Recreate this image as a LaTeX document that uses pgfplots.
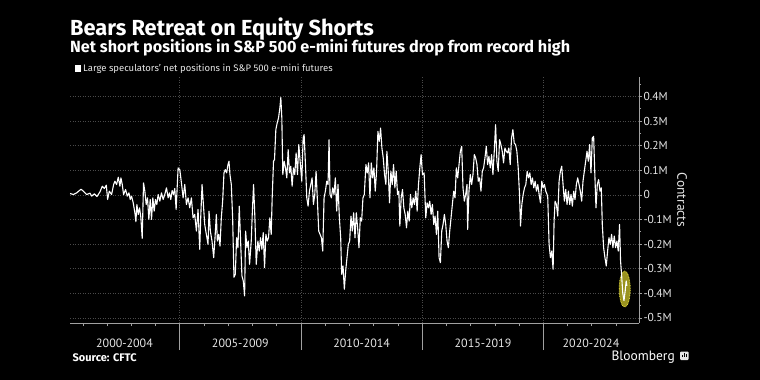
\documentclass[border=0pt]{standalone}
\usepackage{pgfplots}
\pgfplotsset{compat=1.18}
\usepackage{fontspec}
\setmainfont{Fira Sans}
\newfontfamily\ptsans{PT Sans}
\definecolor{gridc}{HTML}{4A4A4A}
\definecolor{axc}{HTML}{A0A0A0}
\definecolor{txt}{HTML}{E6E6E6}
\definecolor{hlfill}{HTML}{9A9320}
\definecolor{hlline}{HTML}{E6DE3C}
\pgfplotstableread{
x y
2000.473 0.0054
2000.610 0.0014
2000.747 0.0081
2000.925 0.0230
2001.021 0.0149
2001.159 0.0014
2001.296 0.0068
2001.364 -0.0054
2001.474 0.0041
2001.584 -0.0068
2001.707 0.0122
2001.803 0.0351
2001.886 0.0257
2001.968 0.0392
2002.023 -0.0189
2002.091 0.0149
2002.187 0.0014
2002.270 0.0419
2002.325 0.0554
2002.393 0.0419
2002.462 0.0716
2002.530 0.0351
2002.571 0.0689
2002.626 0.0419
2002.681 0.0014
2002.764 0.0216
2002.832 -0.0054
2002.901 0.0081
2002.956 -0.0189
2003.010 -0.0054
2003.079 -0.0324
2003.148 -0.0730
2003.189 -0.1095
2003.230 -0.0392
2003.285 -0.0797
2003.340 -0.0527
2003.395 -0.0932
2003.449 -0.1770
2003.504 0.0486
2003.559 0.0149
2003.614 -0.0392
2003.669 -0.0122
2003.724 -0.1000
2003.779 -0.0189
2003.834 -0.1000
2003.888 -0.0122
2003.943 -0.0662
2003.998 -0.0189
2004.053 -0.0392
2004.108 0.0014
2004.177 -0.0257
2004.245 0.0081
2004.314 -0.0189
2004.382 0.0014
2004.451 0.0284
2004.520 -0.0122
2004.574 0.0081
2004.629 -0.0189
2004.684 0.0176
2004.739 0.0014
2004.794 0.0257
2004.849 -0.0595
2004.931 0.1095
2005.000 0.1027
2005.068 0.0486
2005.137 -0.0122
2005.206 0.0419
2005.274 -0.0392
2005.343 -0.0122
2005.411 -0.0527
2005.480 -0.0122
2005.548 -0.0932
2005.617 -0.0797
2005.686 -0.1473
2005.754 -0.0595
2005.823 -0.2216
2005.864 -0.0932
2005.919 0.0419
2005.974 -0.0392
2006.029 -0.1203
2006.097 -0.1608
2006.166 -0.2014
2006.207 -0.0662
2006.262 -0.1473
2006.330 -0.1878
2006.399 -0.2554
2006.454 -0.1743
2006.509 -0.0797
2006.550 -0.1878
2006.605 -0.1608
2006.660 -0.2081
2006.714 -0.0932
2006.769 -0.0257
2006.824 0.0892
2006.879 0.1027
2006.934 0.0892
2006.989 0.1230
2007.030 0.1365
2007.071 0.0824
2007.126 0.0419
2007.181 -0.0932
2007.236 -0.3351
2007.291 -0.3230
2007.345 -0.1743
2007.400 -0.2149
2007.455 -0.0459
2007.510 -0.1878
2007.565 -0.3297
2007.620 -0.3500
2007.675 -0.4108
2007.716 -0.1473
2007.771 -0.2149
2007.826 -0.1878
2007.880 -0.2824
2007.949 -0.1878
2007.990 -0.0797
2008.045 0.0419
2008.100 -0.0932
2008.155 -0.2824
2008.223 -0.1878
2008.278 -0.2284
2008.333 -0.1743
2008.388 -0.2216
2008.443 -0.1541
2008.498 -0.2959
2008.553 -0.1608
2008.608 -0.1878
2008.662 -0.1743
2008.717 -0.0932
2008.772 -0.1608
2008.813 -0.0122
2008.868 0.1365
2008.909 0.1432
2008.964 0.2649
2009.019 0.2919
2009.074 0.3122
2009.129 0.3527
2009.170 0.3959
2009.211 0.3122
2009.252 0.0824
2009.307 0.1365
2009.362 0.1095
2009.417 0.0689
2009.472 0.1838
2009.527 0.0892
2009.581 0.1162
2009.636 0.0351
2009.691 0.1095
2009.746 0.0824
2009.801 0.1703
2009.856 0.0824
2009.911 0.2041
2009.966 0.1365
2010.035 0.0554
2010.090 0.2311
2010.131 0.2446
2010.186 0.1230
2010.241 -0.0122
2010.295 -0.0459
2010.350 0.0149
2010.405 0.0419
2010.460 0.0689
2010.515 -0.0392
2010.570 0.0014
2010.625 0.0959
2010.680 -0.0257
2010.734 -0.1473
2010.789 -0.1608
2010.844 -0.1743
2010.899 -0.2284
2010.954 -0.0122
2011.009 0.0149
2011.064 0.0554
2011.118 0.0419
2011.160 0.2243
2011.201 0.0014
2011.256 -0.0122
2011.310 0.0284
2011.365 0.0014
2011.420 0.0689
2011.475 -0.0662
2011.530 0.0419
2011.585 -0.0932
2011.640 -0.1743
2011.681 -0.3230
2011.736 -0.2892
2011.791 -0.3838
2011.845 -0.3095
2011.900 -0.2554
2011.955 -0.2014
2012.010 -0.1878
2012.065 -0.0865
2012.120 -0.1473
2012.175 -0.0730
2012.230 -0.1743
2012.285 -0.0730
2012.339 -0.1338
2012.394 -0.2149
2012.449 -0.0932
2012.504 -0.1068
2012.559 -0.0122
2012.614 0.0014
2012.682 0.1230
2012.737 0.0892
2012.792 0.1297
2012.847 -0.0122
2012.902 0.1297
2012.957 0.0689
2013.011 0.1095
2013.066 0.0149
2013.121 0.0959
2013.176 0.2581
2013.231 0.2176
2013.286 0.2716
2013.341 0.1905
2013.396 0.1500
2013.450 0.0824
2013.505 0.0419
2013.546 0.1770
2013.601 0.0959
2013.656 -0.0324
2013.711 0.0959
2013.766 0.0419
2013.821 0.1230
2013.876 0.0284
2013.931 0.0959
2013.986 0.0014
2014.040 0.0149
2014.081 -0.1270
2014.136 -0.0122
2014.191 0.0216
2014.246 -0.0527
2014.301 -0.0797
2014.356 -0.1338
2014.411 -0.0662
2014.466 -0.1068
2014.520 0.0014
2014.575 -0.0527
2014.630 -0.0122
2014.685 -0.0392
2014.740 0.0149
2014.795 -0.0662
2014.850 0.0419
2014.905 0.1095
2014.959 0.1635
2015.014 0.0824
2015.083 0.0892
2015.151 -0.0932
2015.206 -0.0324
2015.261 -0.0527
2015.316 -0.0257
2015.371 -0.0797
2015.425 -0.0392
2015.480 -0.1203
2015.535 -0.0865
2015.590 -0.1608
2015.645 -0.0662
2015.700 -0.2554
2015.755 -0.2757
2015.810 -0.1473
2015.864 -0.1203
2015.919 -0.0797
2015.974 -0.1203
2016.029 -0.1878
2016.084 -0.2149
2016.139 -0.1473
2016.194 -0.0932
2016.248 -0.0392
2016.303 0.0149
2016.358 -0.0122
2016.413 0.1095
2016.468 0.0689
2016.523 0.1230
2016.578 0.1770
2016.633 0.1973
2016.687 0.0284
2016.742 -0.0257
2016.797 0.0014
2016.852 0.0419
2016.879 -0.1405
2016.934 0.0149
2016.989 0.0824
2017.044 0.0419
2017.099 0.0824
2017.154 0.1635
2017.209 0.1500
2017.264 0.1230
2017.318 0.0554
2017.373 0.0689
2017.428 0.0149
2017.483 0.0959
2017.538 0.1095
2017.593 0.1500
2017.648 0.1973
2017.703 0.1230
2017.757 0.1568
2017.812 0.1095
2017.867 0.1635
2017.922 0.0824
2017.977 0.1770
2018.032 0.2851
2018.087 0.1365
2018.141 0.0959
2018.196 0.2243
2018.251 0.2041
2018.306 0.1770
2018.361 0.1297
2018.416 0.1905
2018.471 0.1770
2018.526 0.1703
2018.580 0.1905
2018.635 0.1230
2018.690 0.2311
2018.745 0.2649
2018.800 0.2108
2018.855 0.2041
2018.910 0.1770
2018.965 0.1095
2019.019 0.0014
2019.060 -0.1270
2019.115 -0.0392
2019.170 0.0014
2019.225 0.0284
2019.280 0.0419
2019.335 0.0959
2019.390 0.0689
2019.445 0.0892
2019.500 0.0419
2019.554 0.0689
2019.609 0.0284
2019.664 0.0554
2019.719 0.0149
2019.774 0.0419
2019.829 0.0014
2019.884 -0.0324
2019.939 0.0554
2019.993 0.0284
2020.048 0.0419
2020.103 0.0149
2020.158 0.0014
2020.185 -0.0122
2020.240 -0.2014
2020.295 -0.2554
2020.350 -0.2284
2020.405 -0.3027
2020.446 -0.1068
2020.487 -0.0257
2020.542 -0.0392
2020.597 -0.0865
2020.652 0.0554
2020.706 0.0959
2020.761 0.1162
2020.816 0.0419
2020.871 -0.0257
2020.926 0.0216
2020.981 -0.0392
2021.036 0.0149
2021.090 -0.0392
2021.145 0.0014
2021.200 -0.0459
2021.255 0.0149
2021.310 -0.0189
2021.365 0.0419
2021.420 0.0689
2021.475 0.0419
2021.529 0.0149
2021.584 -0.0257
2021.639 0.0554
2021.694 0.0959
2021.749 0.1365
2021.804 0.1770
2021.859 0.1365
2021.913 0.2041
2021.968 0.0892
2022.023 0.2311
2022.078 0.2378
2022.119 0.1095
2022.174 -0.0527
2022.229 0.0419
2022.284 0.0622
2022.339 0.0149
2022.394 0.0284
2022.435 -0.1203
2022.490 -0.2149
2022.545 -0.2554
2022.599 -0.2892
2022.654 -0.2284
2022.709 -0.1743
2022.764 -0.2014
2022.819 -0.1608
2022.874 -0.2149
2022.929 -0.1676
2022.984 -0.2149
2023.038 -0.1878
2023.093 -0.2284
2023.148 -0.1203
2023.189 -0.2689
2023.230 -0.3230
2023.280 -0.4000
2023.330 -0.4300
2023.380 -0.3900
2023.420 -0.3500
2023.450 -0.3700
}\datatable
\begin{document}
\begin{tikzpicture}
\fill[black] (0pt,0pt) rectangle (760pt,-380pt);
\node[anchor=base west, inner sep=0pt, text=white, font=\fontsize{21.8}{21.8}\selectfont\bfseries] at (70pt,-35.5pt) {Bears Retreat on Equity Shorts};
\node[anchor=base west, inner sep=0pt, text=white, font=\fontsize{16.2}{16.2}\selectfont\bfseries] at (70pt,-52.5pt) {Net short positions in S\&P 500 e-mini futures drop from record high};
\fill[white] (74.5pt,-65pt) rectangle (80.5pt,-71.5pt);
\node[anchor=base west, inner sep=0pt, text=txt, font=\fontsize{9.5}{9.5}\selectfont] at (83pt,-71.5pt) {Large speculators' net positions in S\&P 500 e-mini futures};
\begin{axis}[
  at={(70pt,-323pt)}, anchor=south west, scale only axis,
  width=569pt, height=246pt,
  xmin=2000.47, xmax=2023.95, ymin=-0.521, ymax=0.479,
  axis x line*=bottom, axis y line*=right,
  axis line style={axc, line width=0.8pt},
  tick align=outside,
  xtick={2001,2002,2003,2004,2005,2006,2007,2008,2009,2010,2011,2012,2013,2014,2015,2016,2017,2018,2019,2020,2021,2022,2023},
  xticklabel=\empty,
  major tick length=3pt, minor tick length=2pt,
  tick style={axc, line width=0.6pt},
  extra x ticks={2005,2010,2015,2020},
  extra x tick labels={},
  extra x tick style={grid=major, major tick length=27pt, tick style={axc, line width=0.6pt}},
  ytick={-0.5,-0.4,-0.3,-0.2,-0.1,0,0.1,0.2,0.3,0.4},
  yticklabels={-0.5M,-0.4M,-0.3M,-0.2M,-0.1M,0,0.1M,0.2M,0.3M,0.4M},
  minor ytick={-0.45,-0.35,-0.25,-0.15,-0.05,0.05,0.15,0.25,0.35,0.45},
  ymajorgrids,
  major grid style={gridc, dash pattern=on 1pt off 1.5pt, line width=0.6pt},
  yticklabel style={text=txt, font=\ptsans\fontsize{11.5}{11.5}\selectfont, anchor=west, xshift=-2pt},
  /pgf/number format/assume math mode=true,
  clip=false,
]
\draw[hlline, fill=hlfill, dash pattern=on 0.8pt off 0.8pt, line width=0.8pt] (axis cs:2023.36,-0.383) ellipse [x radius=5.5pt, y radius=18pt];
\addplot[white, line width=1.1pt, line join=round] table[x=x,y=y] {\datatable};
\end{axis}
\node[rotate=-90, text=txt, font=\ptsans\fontsize{13.5}{13.5}\selectfont] at (682pt,-200pt) {Contracts};
\foreach \xx/\lab in {124.5/2000-2004, 240.3/2005-2009, 361.7/2010-2014, 483/2015-2019, 591/2020-2024}
  \node[anchor=base, inner sep=0pt, text=txt, font=\ptsans\fontsize{12}{12}\selectfont] at (\xx pt,-347.5pt) {\lab};
\node[anchor=base west, inner sep=0pt, text=white, font=\fontsize{11}{11}\selectfont\bfseries] at (72.5pt,-361.5pt) {Source: CFTC};
\node[anchor=base east, inner sep=0pt, text=white, font=\ptsans\fontsize{13.5}{13.5}\selectfont] at (675pt,-360.5pt) {Bloomberg};
\fill[txt, rounded corners=1pt] (680pt,-351.5pt) rectangle (688.5pt,-360pt);
\fill[black] (682pt,-357pt) rectangle (682.9pt,-355pt);
\fill[black] (683.8pt,-357pt) rectangle (684.7pt,-353pt);
\fill[black] (685.6pt,-357pt) rectangle (686.5pt,-354pt);
\end{tikzpicture}
\end{document}
